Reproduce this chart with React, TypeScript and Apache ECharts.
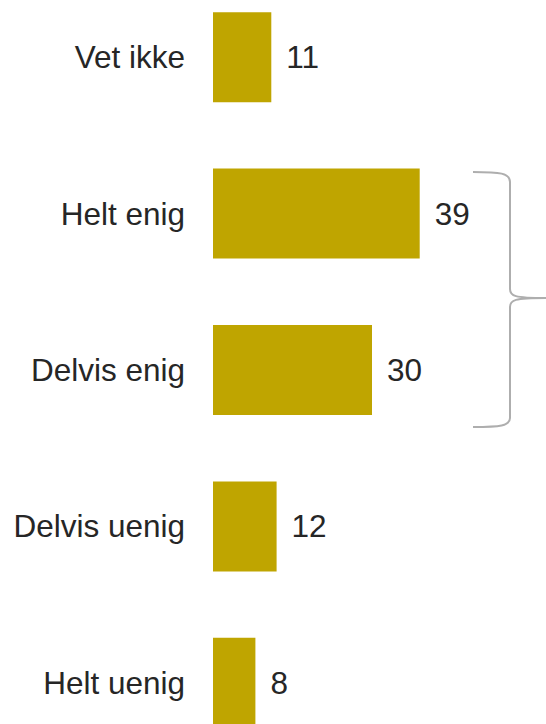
import React, { useEffect, useRef } from "react";
import * as echarts from "echarts";

const categories = ["Vet ikke", "Helt enig", "Delvis enig", "Delvis uenig", "Helt uenig"];
const values = [11, 39, 30, 12, 8];

const OFFSET = 21;
const BRACE_D =
  "M 473 172 C 500 172 510 173 510 182 L 510 289 C 510 296 514 298 546 298 " +
  "M 546 298 C 514 298 510 300 510 307 L 510 418 C 510 426 500 427 473 427";

let registered = false;
const FONT = "'Liberation Sans', Arial, sans-serif";

export default function App() {
  const ref = useRef<HTMLDivElement>(null);
  useEffect(() => {
    if (!registered) {
      echarts.graphic.registerShape("brace", echarts.graphic.extendPath(BRACE_D, {}) as any);
      registered = true;
    }
    const chart = echarts.init(ref.current!, null, { renderer: "svg" });
    chart.setOption({
      animation: false,
      grid: { left: 213, top: 0, height: 782, width: 318 },
      xAxis: { type: "value", min: 0, max: 60, show: false, splitLine: { show: false } },
      yAxis: {
        type: "category",
        data: categories,
        inverse: true,
        axisLine: { show: false },
        axisTick: { show: false },
        axisLabel: {
          color: "#262626",
          fontSize: 31.5,
          fontFamily: FONT,
          margin: 28,
        },
      },
      series: [
        {
          type: "bar",
          data: values,
          barWidth: 90,
          itemStyle: { color: "#BFA500" },
          label: {
            show: true,
            position: "right",
            distance: 15,
            color: "#262626",
            fontSize: 31.5,
            fontFamily: FONT,
          },
        },
      ],
      graphic: [
        {
          type: "brace",
          x: 0,
          y: OFFSET,
          style: { stroke: "#AEAEAE", fill: null, lineWidth: 2 },
        },
      ],
    });
    return () => chart.dispose();
  }, []);
  return (
    <div
      style={{
        position: "absolute",
        left: 0,
        top: 0,
        width: 546,
        height: 724,
        overflow: "hidden",
      }}
    >
      <div
        ref={ref}
        style={{ position: "absolute", left: 0, top: -OFFSET, width: 546, height: 782 }}
      />
    </div>
  );
}
